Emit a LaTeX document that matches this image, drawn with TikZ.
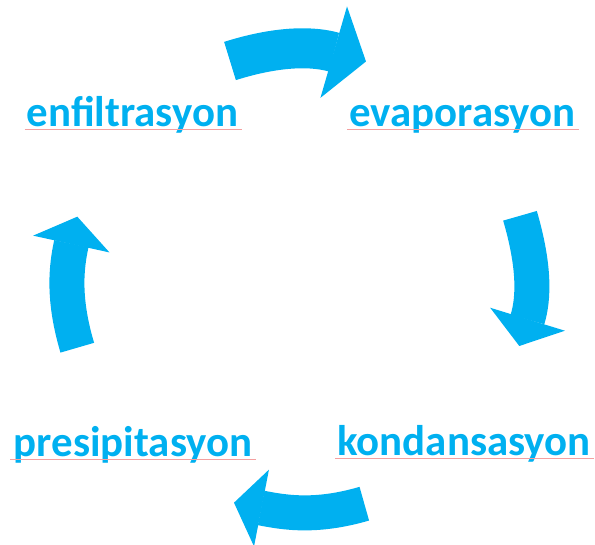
\documentclass[tikz,border=0pt]{standalone}
\usepackage{fontspec}
\setmainfont{Carlito}
\usepackage{tikz}
\usetikzlibrary{arrows.meta}
\definecolor{WaterBlue}{HTML}{00B0F0}
\definecolor{SpellRed}{HTML}{F4A0A0}

\begin{document}
\begin{tikzpicture}[x=0.025cm, y=0.025cm,
    stage/.style={inner sep=0pt, anchor=base, text=WaterBlue,
                  font=\fontsize{30.5}{36}\selectfont\bfseries},
    bigarrow/.style={draw=WaterBlue, line width=0.875cm,
                     -{Triangle[length=0.7cm, width=1.95cm, line width=1pt]}},
    spell/.style={draw=SpellRed, line width=0.8pt}]
    \useasboundingbox (0,0) rectangle (595,545);

    % Stages of the cycle
    \node[stage] (enf)  at (132.5,418) {enfiltrasyon};
    \node[stage] (evap) at (462.5,418) {evaporasyon};
    \node[stage] (kond) at (464,89)    {kondansasyon};
    \node[stage] (pres) at (133,88)    {presipitasyon};

    % Arrow ends
    \coordinate (topTail) at (230,484);
    \coordinate (topTip)  at (366,483.5);
    \coordinate (rightTail) at (520,329.2);
    \coordinate (rightTip)  at (519.3,199);
    \coordinate (bottomTail) at (364.3,41.3);
    \coordinate (bottomTip)  at (234,42.3);
    \coordinate (leftTail) at (77.3,197.3);
    \coordinate (leftTip)  at (77.3,328.3);

    % Curved arrows
    \draw[bigarrow, line width=1cm,
          -{Triangle[length=0.84cm, width=2.375cm, line width=1pt]}]
        (topTail) to[out=17.5, in=163.8] (topTip);
    \draw[bigarrow] (rightTail) to[out=-73.7, in=72.9] (rightTip);
    \draw[bigarrow] (bottomTail) to[out=196.3, in=-11] (bottomTip);
    \draw[bigarrow] (leftTail) to[out=106.7, in=257.6] (leftTip);

    % Spell-check lines
    \draw[spell] ([shift={(-2,-2.5)}]enf.base west) -- ([shift={(4,-2.5)}]enf.base east);
    \draw[spell] ([shift={(-2,-2.5)}]evap.base west) -- ([shift={(3,-2.5)}]evap.base east);
    \draw[spell] ([shift={(-2,-2.5)}]kond.base west) -- ([shift={(3,-2.5)}]kond.base east);
    \draw[spell] ([shift={(-3,-2.5)}]pres.base west) -- ([shift={(3,-2.5)}]pres.base east);
\end{tikzpicture}
\end{document}
